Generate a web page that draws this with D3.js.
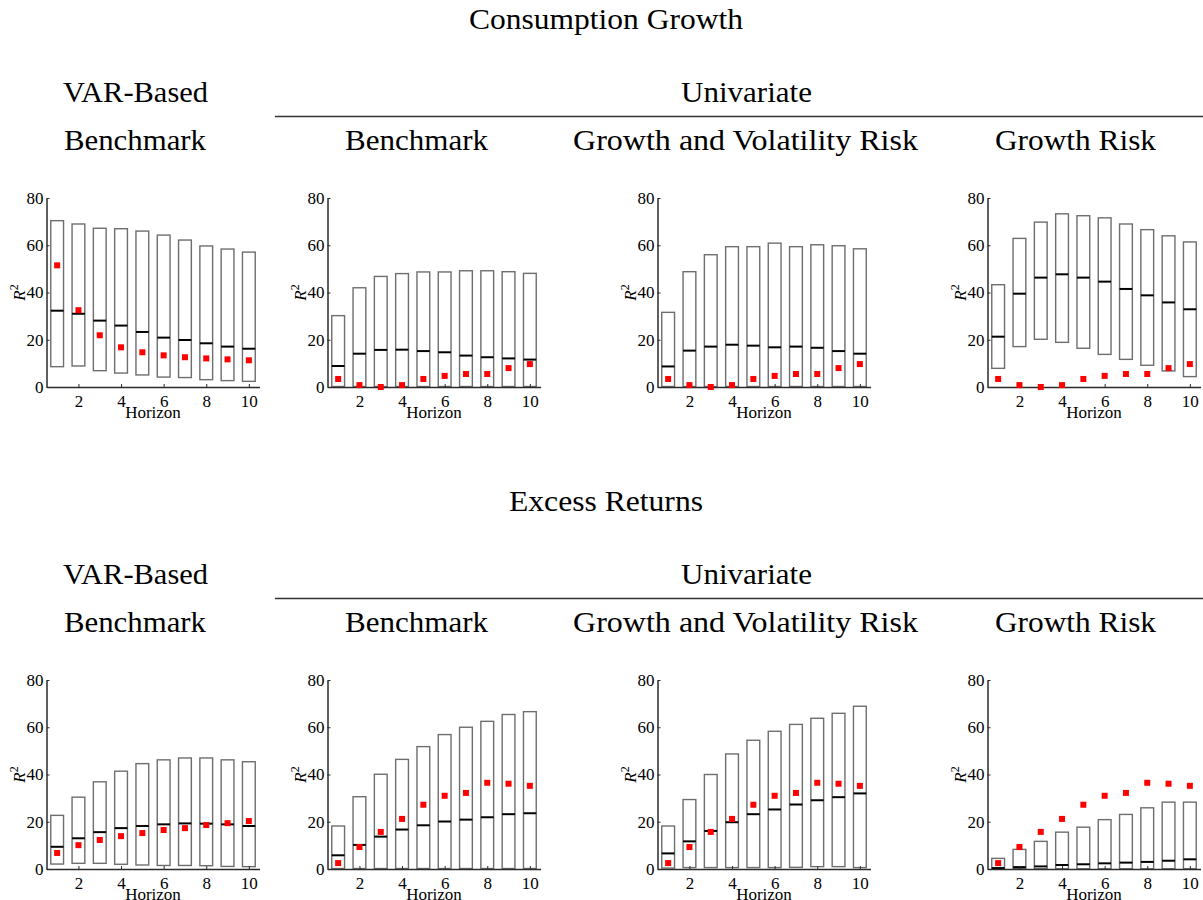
<!DOCTYPE html>
<html>
<head>
<meta charset="utf-8">
<script src="https://cdn.jsdelivr.net/npm/d3@7/dist/d3.min.js"></script>
<style>
  html, body { margin: 0; padding: 0; background: #fff; }
  svg { display: block; }
  text { font-family: "Liberation Serif", "Times New Roman", serif; fill: #000; }
</style>
</head>
<body>
<svg id="chart" width="1203" height="900"></svg>
<script>
// Horizons and axis ticks
const horizons = [1, 2, 3, 4, 5, 6, 7, 8, 9, 10];
const xTicks = [2, 4, 6, 8, 10];
const yTicks = [0, 20, 40, 60, 80];

// Consumption growth: VAR-based benchmark
const consVarUpper  = [70.4, 69.0, 67.2, 67.0, 66.0, 64.3, 62.2, 59.7, 58.4, 57.1];
const consVarLower  = [8.6, 8.9, 6.9, 5.9, 5.1, 4.2, 4.0, 3.1, 2.7, 2.4];
const consVarMedian = [32.3, 31.0, 28.1, 26.0, 23.3, 20.9, 19.9, 18.5, 17.1, 16.2];
const consVarData   = [51.5, 32.5, 21.9, 16.8, 14.7, 13.4, 12.6, 12.1, 11.7, 11.3];

// Consumption growth: univariate benchmark
const consBenchUpper  = [30.2, 42.0, 46.8, 48.0, 48.7, 48.7, 49.2, 49.2, 48.8, 48.1];
const consBenchLower  = [0.2, 0.2, 0.2, 0.2, 0.2, 0.2, 0.2, 0.2, 0.2, 0.2];
const consBenchMedian = [8.9, 14.1, 15.7, 15.8, 15.2, 14.7, 13.3, 12.6, 12.1, 11.6];

// Consumption growth: univariate growth and volatility risk
const consGVUpper  = [31.6, 48.8, 56.0, 59.4, 59.4, 60.9, 59.4, 60.2, 59.8, 58.5];
const consGVLower  = [0.2, 0.2, 0.2, 0.2, 0.2, 0.2, 0.2, 0.2, 0.2, 0.2];
const consGVMedian = [8.7, 15.4, 17.1, 17.9, 17.5, 16.8, 17.1, 16.6, 15.2, 14.1];

// Consumption growth: univariate growth risk
const consGUpper  = [43.3, 62.9, 69.8, 73.3, 72.5, 71.6, 69.0, 66.6, 64.0, 61.4];
const consGLower  = [7.9, 17.1, 20.2, 18.9, 16.4, 13.8, 11.7, 9.2, 6.8, 4.4];
const consGMedian = [21.3, 39.5, 46.3, 47.7, 46.3, 44.6, 41.5, 38.8, 35.8, 32.9];

// Consumption growth: sample R^2 of the univariate regression
const consUniData = [3.4, 0.8, 0.0, 0.8, 3.4, 4.7, 5.5, 5.5, 8.0, 9.7];

// Excess returns: VAR-based benchmark
const retVarUpper  = [22.7, 30.4, 36.9, 41.4, 44.6, 46.2, 47.0, 47.0, 46.2, 45.4];
const retVarLower  = [2.1, 2.4, 2.4, 2.0, 1.7, 1.5, 1.5, 1.4, 1.1, 1.0];
const retVarMedian = [9.4, 13.0, 15.6, 17.3, 18.2, 18.9, 19.3, 19.2, 18.9, 18.2];
const retVarData   = [6.8, 10.1, 12.3, 13.9, 15.2, 16.5, 17.3, 18.6, 19.4, 20.3];

// Excess returns: univariate benchmark
const retBenchUpper  = [18.2, 30.6, 40.1, 46.4, 51.8, 56.9, 60.0, 62.5, 65.4, 66.6];
const retBenchLower  = [0.2, 0.2, 0.2, 0.2, 0.2, 0.2, 0.2, 0.2, 0.2, 0.2];
const retBenchMedian = [5.8, 10.2, 13.7, 16.7, 18.5, 20.1, 20.9, 21.9, 23.2, 23.6];

// Excess returns: univariate growth and volatility risk
const retGVUpper  = [18.2, 29.4, 40.0, 48.7, 54.5, 58.3, 61.2, 63.8, 65.9, 68.9];
const retGVLower  = [0.4, 0.6, 0.6, 0.6, 0.6, 0.6, 0.7, 1.0, 1.0, 0.6];
const retGVMedian = [6.6, 11.7, 16.1, 19.8, 23.2, 25.2, 27.3, 29.1, 30.4, 32.0];

// Excess returns: univariate growth risk
const retGUpper  = [4.5, 8.3, 11.7, 15.6, 17.7, 20.9, 23.1, 25.9, 28.3, 28.3];
const retGLower  = [0.1, 0.1, 0.1, 0.1, 0.1, 0.1, 0.1, 0.1, 0.1, 0.1];
const retGMedian = [0.4, 0.8, 1.1, 1.7, 2.0, 2.4, 2.7, 3.0, 3.5, 4.1];

// Excess returns: sample R^2 of the univariate regression
const retUniData = [2.5, 9.3, 15.7, 21.2, 27.2, 31.0, 32.2, 36.5, 36.1, 35.2];

// Headings
const sectionTitles = ["Consumption Growth", "Excess Returns"];
const groupTitles = ["VAR-Based", "Univariate"];
const panelTitles = ["Benchmark", "Benchmark", "Growth and Volatility Risk", "Growth Risk"];

// ---- layout ----
const svg = d3.select("#chart");
svg.append("rect").attr("width", 1203).attr("height", 900).attr("fill", "#fff");

const panelLefts = [46.5, 327.5, 657.5, 987.5];
const panelWidth = 213;
const panelHeight = 189;
const rowOffset = 482;
const rowBase = [387, 387 + rowOffset];

const rows = [
  [
    {upper: consVarUpper, lower: consVarLower, median: consVarMedian, data: consVarData},
    {upper: consBenchUpper, lower: consBenchLower, median: consBenchMedian, data: consUniData},
    {upper: consGVUpper, lower: consGVLower, median: consGVMedian, data: consUniData},
    {upper: consGUpper, lower: consGLower, median: consGMedian, data: consUniData}
  ],
  [
    {upper: retVarUpper, lower: retVarLower, median: retVarMedian, data: retVarData},
    {upper: retBenchUpper, lower: retBenchLower, median: retBenchMedian, data: retUniData},
    {upper: retGVUpper, lower: retGVLower, median: retGVMedian, data: retUniData},
    {upper: retGUpper, lower: retGLower, median: retGMedian, data: retUniData}
  ]
];

// heading text, stretched to the typeset width
function heading(x, y, str, width) {
  svg.append("text")
    .attr("x", x).attr("y", y)
    .attr("text-anchor", "middle")
    .attr("font-size", 28.5)
    .attr("textLength", width)
    .attr("lengthAdjust", "spacingAndGlyphs")
    .text(str);
}

const sectionWidths = [274, 194];
const groupCenters = [135.5, 746.5];
const groupWidths = [145, 131];
const panelCenters = [135, 416.5, 745.5, 1075.5];
const panelTitleWidths = [142, 143, 345, 161];

rows.forEach((row, r) => {
  const dy = r * rowOffset;
  heading(606, 29 + dy, sectionTitles[r], sectionWidths[r]);
  groupTitles.forEach((t, i) => heading(groupCenters[i], 102 + dy, t, groupWidths[i]));
  svg.append("line")
    .attr("x1", 275).attr("x2", 1203)
    .attr("y1", 116.5 + dy).attr("y2", 116.5 + dy)
    .attr("stroke", "#333").attr("stroke-width", 1.3);
  panelTitles.forEach((t, i) => heading(panelCenters[i], 150 + dy, t, panelTitleWidths[i]));

  row.forEach((p, c) => {
    const left = panelLefts[c];
    const y0 = rowBase[r];
    const x = d3.scaleLinear().domain([0.5, 10.5]).range([left, left + panelWidth]);
    const y = d3.scaleLinear().domain([0, 80]).range([y0, y0 - panelHeight]);
    const g = svg.append("g");
    const boxW = x(1.3) - x(0.7);

    // interval boxes
    g.selectAll("rect.box").data(horizons).join("rect")
      .attr("class", "box")
      .attr("x", (h) => x(h) - boxW / 2)
      .attr("y", (h, i) => y(p.upper[i]))
      .attr("width", boxW)
      .attr("height", (h, i) => y(p.lower[i]) - y(p.upper[i]))
      .attr("fill", "none")
      .attr("stroke", "#6e6e6e")
      .attr("stroke-width", 1.4);

    // medians
    g.selectAll("line.med").data(horizons).join("line")
      .attr("class", "med")
      .attr("x1", (h) => x(h) - boxW / 2)
      .attr("x2", (h) => x(h) + boxW / 2)
      .attr("y1", (h, i) => y(p.median[i]))
      .attr("y2", (h, i) => y(p.median[i]))
      .attr("stroke", "#000")
      .attr("stroke-width", 2);

    // axes
    const ya = g.append("g")
      .attr("transform", `translate(${left},0)`)
      .call(d3.axisLeft(y).tickValues(yTicks).tickSizeInner(-3).tickSizeOuter(0).tickPadding(3));
    const xa = g.append("g")
      .attr("transform", `translate(0,${y0})`)
      .call(d3.axisBottom(x).tickValues(xTicks).tickSizeInner(-3).tickSizeOuter(0).tickPadding(8));
    [ya, xa].forEach((a) => {
      a.select(".domain").attr("stroke", "#2a2a2a").attr("stroke-width", 1.5);
      a.selectAll(".tick line").attr("stroke", "#2a2a2a").attr("stroke-width", 1);
      a.selectAll(".tick text")
        .attr("font-family", "Liberation Serif, serif")
        .attr("font-size", 17)
        .attr("fill", "#000");
    });

    // sample R^2 markers
    g.selectAll("rect.pt").data(horizons).join("rect")
      .attr("class", "pt")
      .attr("x", (h) => x(h) - 3)
      .attr("y", (h, i) => y(p.data[i]) - 3)
      .attr("width", 6).attr("height", 6)
      .attr("fill", "#ff0000");

    // axis titles
    g.append("text")
      .attr("x", left + panelWidth / 2)
      .attr("y", y0 + 31)
      .attr("text-anchor", "middle")
      .attr("font-size", 17)
      .text("Horizon");

    const yl = g.append("text")
      .attr("transform", `translate(${left - 22},${y0 - panelHeight / 2}) rotate(-90)`)
      .attr("text-anchor", "middle")
      .attr("font-size", 17);
    yl.append("tspan").attr("font-style", "italic").text("R");
    yl.append("tspan").attr("font-size", 12).attr("dy", -7).text("2");
  });
});
</script>
</body>
</html>
